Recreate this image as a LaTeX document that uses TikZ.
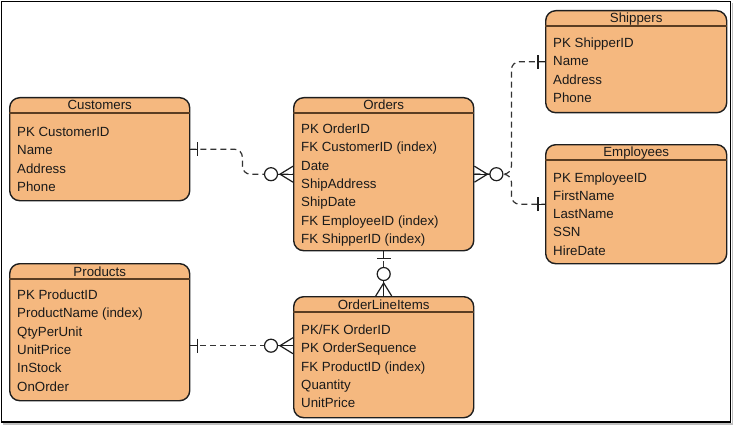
\documentclass[tikz,border=0pt]{standalone}
\usepackage{fontspec}
\setmainfont{Liberation Sans}
\usetikzlibrary{calc}
\definecolor{boxfill}{HTML}{F5B87F}
\definecolor{boxline}{HTML}{1E1E1E}
\definecolor{hdrline}{HTML}{5A3D22}
\definecolor{conncol}{HTML}{333333}
\definecolor{txtcol}{HTML}{1A1A1A}
\tikzset{
  entity/.style={draw=boxline, fill=boxfill, line width=1.4pt, rounded corners=10pt, inner sep=0pt},
  hdr/.style={draw=hdrline, line width=1.2pt},
  ttl/.style={inner sep=0pt, text=txtcol, font=\fontsize{13.3}{16}\selectfont},
  fld/.style={inner sep=0pt, text=txtcol, font=\fontsize{13.3}{16}\selectfont},
  conn/.style={draw=conncol, line width=1.2pt, dash pattern=on 6pt off 4pt, rounded corners=8pt},
  sym/.style={draw=boxline, line width=1.2pt},
  onebar/.pic={
    \draw[sym] (0,0) -- (7,0);
    \draw[sym] (7,-7) -- (7,7);
  },
  zmany/.pic={
    \draw[sym] (0,-8) -- (13,0) -- (0,8);
    \draw[sym] (0,0) -- (15.5,0);
    \draw[sym, fill=white] (22,0) circle (6.5);
  }
}
\newcommand\erent[8]{%
  \node[entity, minimum width=#4pt, minimum height=#5pt, anchor=north west] (#1) at (#2,#3) {};
  \draw[hdr] ($(#1.north west)+(0,16)$) -- ($(#1.north east)+(0,16)$);
  \node[ttl, anchor=base] (#1-t) at ($(#1.north)+(0,13)$) {#6};
  \foreach \f [count=\i] in {#7} {
    \node[fld, anchor=base west] at ($(#1.north west)+(8,#8+18.3*\i-18.3)$) {\f};
  }
}
\begin{document}
\begin{tikzpicture}[x=1pt,y=-1pt]
\useasboundingbox (0,0) rectangle (733,425);
% frame
\draw[line width=1.5pt, black] (1.5,1.5) rectangle (730.5,422);
\draw[line width=1.2pt, black!25] (3,424) -- (732.5,424) -- (732.5,3);
% entities
\erent{cust}{9}{97}{180}{103}{Customers}{PK CustomerID,Name,Address,Phone}{39.5}
\erent{ord}{293}{97}{180}{153}{Orders}{PK OrderID,FK CustomerID (index),Date,ShipAddress,ShipDate,FK EmployeeID (index),FK ShipperID (index)}{36.5}
\erent{ship}{545}{10}{181}{102}{Shippers}{PK ShipperID,Name,Address,Phone}{37.5}
\erent{emp}{545}{144}{181}{119}{Employees}{PK EmployeeID,FirstName,LastName,SSN,HireDate}{38}
\erent{prod}{9}{263}{180}{137}{Products}{PK ProductID,ProductName (index),QtyPerUnit,UnitPrice,InStock,OnOrder}{36.5}
\erent{oli}{293}{296}{180}{121}{OrderLineItems}{PK/FK OrderID,PK OrderSequence,FK ProductID (index),Quantity,UnitPrice}{38.5}
% connectors
\coordinate (pl) at ($(prod.east)+(0,13.5)$);
\coordinate (ol) at (pl -| oli.west);
\draw[conn] (cust.east) -- ++(52,0) |- (ord.west);
\draw[conn] (ord.east) -- ++(37,0) |- (ship.west);
\draw[conn] (ord.east) -- ++(37,0) |- (emp.west);
\draw[conn] (ord.south) -- (oli.north);
\draw[conn] (pl) -- (ol);
% end symbols
\pic at (cust.east) {onebar};
\pic[rotate=180] at (ord.west) {zmany};
\pic at (ord.east) {zmany};
\pic[rotate=180] at (ship.west) {onebar};
\pic[rotate=180] at (emp.west) {onebar};
\pic[rotate=-90] at (ord.south) {onebar};
\pic[rotate=90] at (oli.north) {zmany};
\pic at (pl) {onebar};
\pic[rotate=180] at (ol) {zmany};
\end{tikzpicture}
\end{document}
